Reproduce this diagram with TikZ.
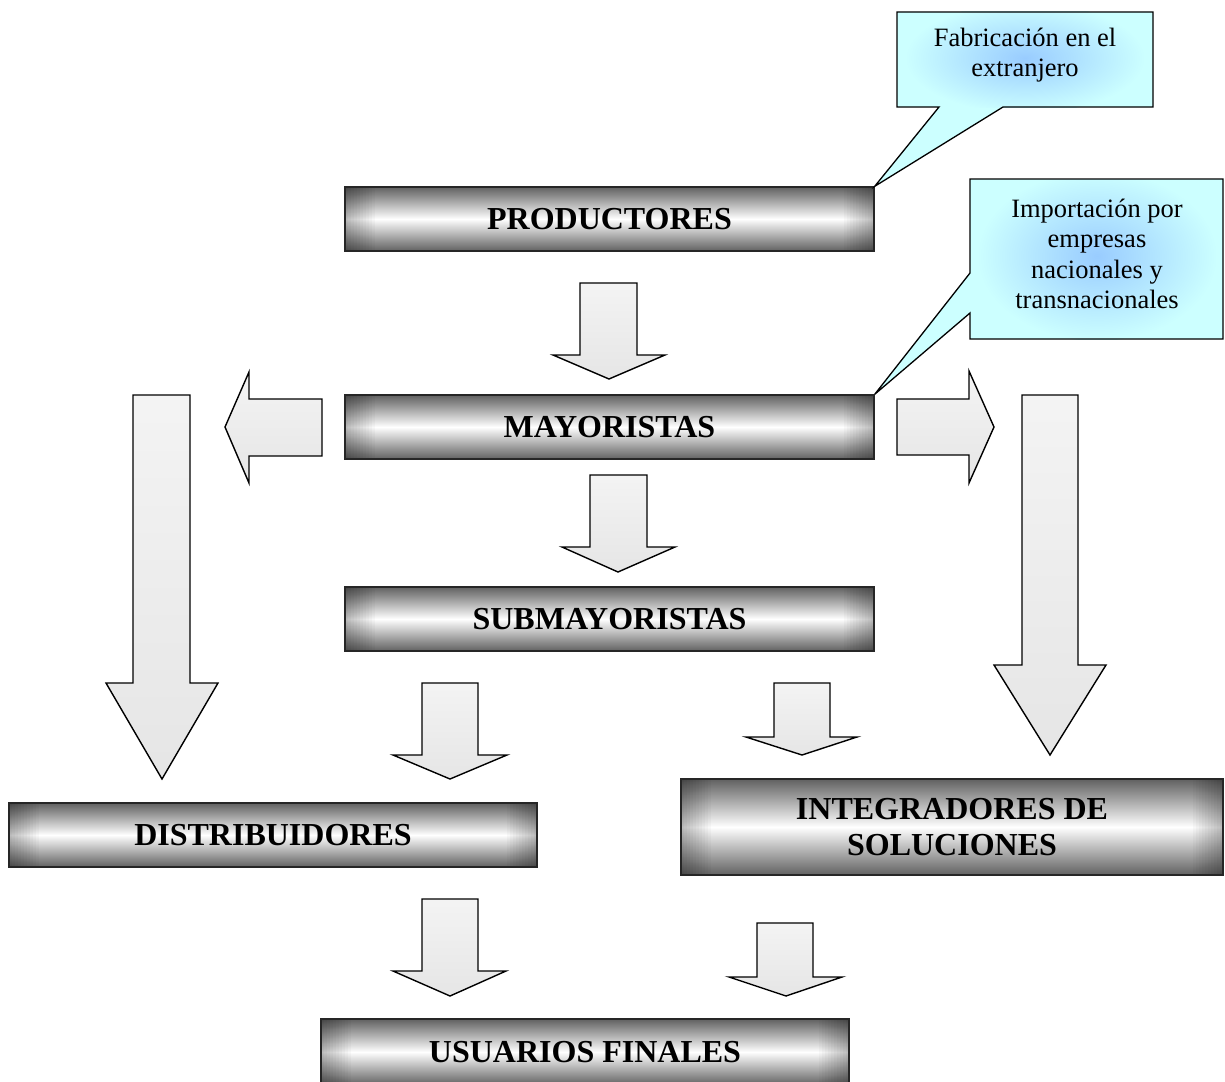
\documentclass[tikz,border=0pt]{standalone}
\usepackage{fontspec}
\setmainfont{Liberation Serif}
\definecolor{calbase}{HTML}{CCFFFF}
\definecolor{calglow}{HTML}{99CCFF}
\begin{document}
\begin{tikzpicture}[x=1pt,y=-1pt,
  box/.style 2 args={draw=black!85, line width=1.3pt, inner sep=0pt,
    minimum width=#1pt, minimum height=#2pt,
    font=\fontsize{32}{36}\selectfont\bfseries, align=center,
    top color=black!62, bottom color=black!62, middle color=white,
    path picture={
      \foreach \k in {1,...,10} {
        \fill[black, opacity=0.028] (path picture bounding box.south west) rectangle ([xshift=3*\k pt]path picture bounding box.north west);
        \fill[black, opacity=0.028] (path picture bounding box.south east) rectangle ([xshift=-3*\k pt]path picture bounding box.north east);
      }
    }},
  arr/.style={draw=black, line width=1.4pt, line join=miter, top color=gray!9, bottom color=gray!20},
  calfill/.style={fill=calbase},
  calline/.style={draw=black, line width=1.3pt, line join=miter},
  caltext/.style={font=\fontsize{26.5}{30.5}\selectfont, align=center, inner sep=0pt}
]
\useasboundingbox (0,0) rectangle (1225,1081);

% boxes
\node[box={529}{64}] (p) at (609.5,219) {PRODUCTORES};
\node[box={529}{64}] (m) at (609.5,427) {MAYORISTAS};
\node[box={529}{64}] (s) at (609.5,619) {SUBMAYORISTAS};
\node[box={528}{64}] (d) at (273,835) {DISTRIBUIDORES};
\node[box={542}{96}] (i) at (952,827) {INTEGRADORES DE\\SOLUCIONES};
\node[box={528}{66}] (u) at (585,1052) {USUARIOS FINALES};

% block arrows
\path[arr] (580,283) -- (637,283) -- (637,355) -- (665,355) -- (609,379) -- (553,355) -- (580,355) -- cycle;
\path[arr] (590,475) -- (647,475) -- (647,547) -- (675,547) -- (618,572) -- (562,547) -- (590,547) -- cycle;
\path[arr] (133,395) -- (190,395) -- (190,683) -- (218,683) -- (162,779) -- (106,683) -- (133,683) -- cycle;
\path[arr] (1022,395) -- (1078,395) -- (1078,665) -- (1106,665) -- (1050,755) -- (994,665) -- (1022,665) -- cycle;
\path[arr] (897,399) -- (969,399) -- (969,371) -- (994,427) -- (969,483) -- (969,455) -- (897,455) -- cycle;
\path[arr] (322,399) -- (249,399) -- (249,372) -- (225,427) -- (249,483) -- (249,456) -- (322,456) -- cycle;
\path[arr] (422,683) -- (478,683) -- (478,755) -- (507,755) -- (450,779) -- (393,755) -- (422,755) -- cycle;
\path[arr] (774,683) -- (830,683) -- (830,737) -- (857,737) -- (802,755) -- (746,737) -- (774,737) -- cycle;
\path[arr] (422,899) -- (478,899) -- (478,971) -- (506,971) -- (450,996) -- (393,971) -- (422,971) -- cycle;
\path[arr] (757,923) -- (813,923) -- (813,977) -- (842,977) -- (786,996) -- (729,977) -- (757,977) -- cycle;

% callout 1
\path[calfill] (897,12) -- (1153,12) -- (1153,107) -- (1003,107) -- (p.north east) -- (939,107) -- (897,107) -- cycle;
\begin{scope}
  \clip (897,12) rectangle (1153,107);
  \shade[inner color=calglow, outer color=calbase] (1025,58) ellipse (120 and 55);
\end{scope}
\path[calline] (897,12) -- (1153,12) -- (1153,107) -- (1003,107) -- (p.north east) -- (939,107) -- (897,107) -- cycle;
% callout 2
\path[calfill] (970,179) -- (1223,179) -- (1223,339) -- (970,339) -- (970,313) -- (m.north east) -- (970,273) -- cycle;
\begin{scope}
  \clip (970,179) rectangle (1223,339);
  \shade[inner color=calglow, outer color=calbase] (1097,256) ellipse (120 and 85);
\end{scope}
\path[calline] (970,179) -- (1223,179) -- (1223,339) -- (970,339) -- (970,313) -- (m.north east) -- (970,273) -- cycle;

\node[caltext] (c1) at (1025,55) {Fabricación en el\\extranjero};
\node[caltext] (c2) at (1097,254) {Importación por\\empresas\\nacionales y\\transnacionales};
\end{tikzpicture}
\end{document}
